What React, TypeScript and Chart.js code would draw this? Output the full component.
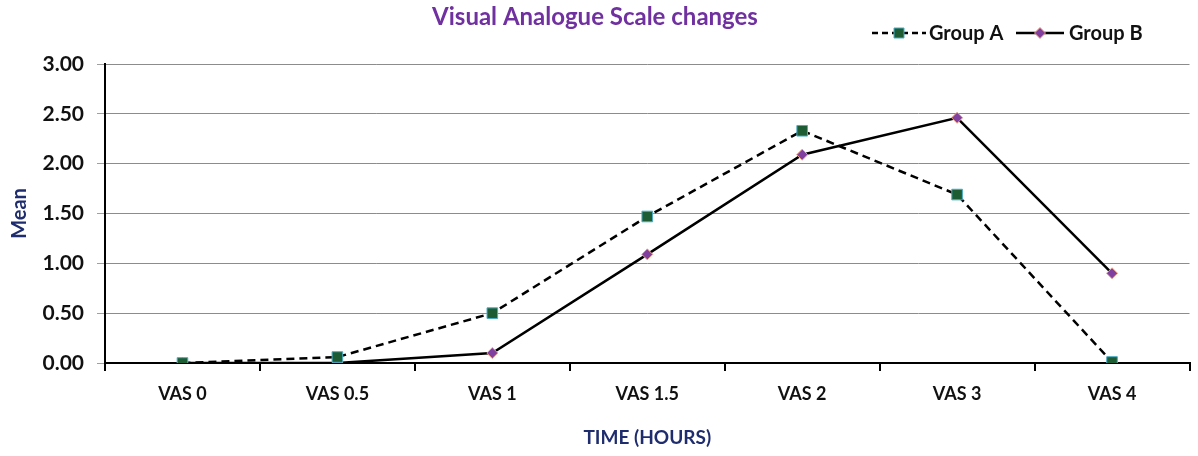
import React, { useEffect, useRef } from "react";
import { Chart, registerables } from "chart.js";

Chart.register(...registerables);

const categories = ["VAS 0", "VAS 0.5", "VAS 1", "VAS 1.5", "VAS 2", "VAS 3", "VAS 4"];
const groupA = [0.0, 0.06, 0.5, 1.47, 2.33, 1.69, 0.01];
const groupB = [0.0, 0.0, 0.1, 1.09, 2.09, 2.46, 0.9];
const yTicks = [0, 0.5, 1, 1.5, 2, 2.5, 3];

const FONT = "Lato";
const TITLE_COLOR = "#7030A0";
const AXIS_TITLE_COLOR = "#1F2D6E";
const A_FILL = "#1E5C34";
const A_BORDER = "#4BACC6";
const B_FILL = "#8040A0";
const B_BORDER = "#F0A080";

const legendPlugin = {
  id: "customLegend",
  afterDraw(chart: any) {
    const ctx = chart.ctx;
    const y = 33;
    const items = [
      { label: "Group A", x0: 872, x1: 926, tx: 929, dash: [6, 4], style: "rect" },
      { label: "Group B", x0: 1016, x1: 1064, tx: 1069, dash: [], style: "rectRot" },
    ];
    items.forEach((it, i) => {
      const ds = chart.data.datasets[i];
      ctx.save();
      ctx.strokeStyle = ds.borderColor;
      ctx.lineWidth = 2.5;
      ctx.setLineDash(it.dash);
      ctx.beginPath();
      ctx.moveTo(it.x0, y);
      ctx.lineTo(it.x1, y);
      ctx.stroke();
      ctx.setLineDash([]);
      ctx.fillStyle = ds.pointBackgroundColor;
      ctx.strokeStyle = ds.pointBorderColor;
      ctx.lineWidth = 1;
      const cx = (it.x0 + it.x1) / 2;
      ctx.beginPath();
      if (it.style === "rect") {
        ctx.rect(cx - 5, y - 5, 10, 10);
      } else {
        ctx.moveTo(cx, y - 5.5);
        ctx.lineTo(cx + 5.5, y);
        ctx.lineTo(cx, y + 5.5);
        ctx.lineTo(cx - 5.5, y);
        ctx.closePath();
      }
      ctx.fill();
      ctx.stroke();
      ctx.fillStyle = "#111";
      ctx.font = `bold 20px ${FONT}`;
      ctx.textBaseline = "middle";
      ctx.textAlign = "left";
      ctx.fillText(it.label, it.tx, y + 1);
      ctx.restore();
    });
  },
};

export default function App() {
  const ref = useRef<HTMLCanvasElement | null>(null);
  useEffect(() => {
    if (!ref.current) return;
    const chart = new Chart(ref.current, {
      type: "line",
      data: {
        labels: categories,
        datasets: [
          {
            label: "Group A",
            data: groupA,
            borderColor: "#000",
            borderWidth: 2.5,
            borderDash: [8, 5],
            pointStyle: "rect",
            pointRadius: 7.5,
            pointBackgroundColor: A_FILL,
            pointBorderColor: A_BORDER,
            pointBorderWidth: 1,
            tension: 0,
          },
          {
            label: "Group B",
            data: groupB,
            borderColor: "#000",
            borderWidth: 2.5,
            pointStyle: "rectRot",
            pointRadius: 5.5,
            pointBackgroundColor: B_FILL,
            pointBorderColor: B_BORDER,
            pointBorderWidth: 1,
            tension: 0,
          },
        ],
      },
      options: {
        animation: false,
        responsive: true,
        maintainAspectRatio: false,
        layout: { padding: { left: 0, right: 8, top: 0, bottom: 0 } },
        plugins: {
          legend: { display: false },
          tooltip: { enabled: false },
          title: {
            display: true,
            text: "Visual Analogue Scale changes",
            color: TITLE_COLOR,
            font: { family: FONT, size: 24, weight: "bold" },
            padding: { top: 3, bottom: 32.2 },
          },
        },
        scales: {
          x: {
            offset: true,
            grid: {
              display: true,
              drawOnChartArea: false,
              drawTicks: true,
              tickLength: 8,
              tickColor: "#000",
              lineWidth: 2,
              offset: true,
            },
            border: { display: true, color: "#000", width: 2 },
            ticks: {
              color: "#111",
              font: { family: FONT, size: 18, weight: "bold" },
              padding: 12,
              maxRotation: 0,
            },
            title: {
              display: true,
              text: "TIME (HOURS)",
              color: AXIS_TITLE_COLOR,
              font: { family: FONT, size: 19, weight: "bold" },
              padding: { top: 0, bottom: 7 },
            },
            afterFit(scale: any) {
              scale.height = 93;
            },
          },
          y: {
            min: 0,
            max: 3,
            afterBuildTicks(scale: any) {
              scale.ticks = yTicks.map((v) => ({ value: v }));
            },
            grid: {
              color: "#8C8C8C",
              lineWidth: 1,
              drawTicks: true,
              tickLength: 8,
              tickColor: "#A0A0A0",
            },
            border: { display: true, color: "#000", width: 2 },
            ticks: {
              color: "#111",
              font: { family: FONT, size: 21, weight: "bold" },
              padding: 13,
              callback: (v: any) => Number(v).toFixed(2),
            },
            title: {
              display: true,
              text: "Mean",
              color: AXIS_TITLE_COLOR,
              font: { family: FONT, size: 20, weight: "bold" },
              padding: { top: 8, bottom: 0 },
            },
            afterFit(scale: any) {
              scale.width = 105;
            },
          },
        },
      },
      plugins: [legendPlugin],
    });
    return () => chart.destroy();
  }, []);
  return (
    <div style={{ position: "fixed", left: 0, top: 0, width: 1198, height: 456, background: "#fff" }}>
      <canvas ref={ref} />
    </div>
  );
}
